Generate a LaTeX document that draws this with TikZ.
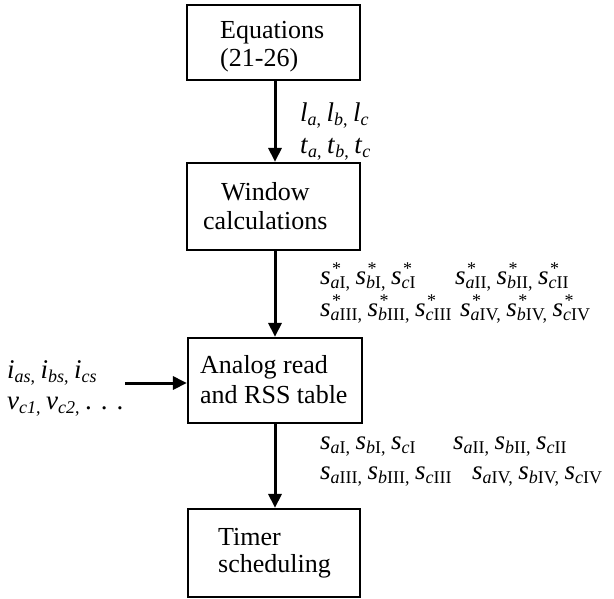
\documentclass[tikz,border=0pt]{standalone}
\usepackage{fontspec}
\setmainfont{Liberation Serif}
\usetikzlibrary{arrows.meta}
\newcommand\sbx[1]{\raisebox{-0.33ex}{\fontsize{18}{18}\selectfont #1}}
\newcommand\vv[2]{\textit{#1}\sbx{#2}}
\newcommand\vst[2]{\textit{#1}\makebox[0pt][l]{\hspace{1.5pt}\raisebox{0.75ex}{\fontsize{18}{18}\selectfont *}}\sbx{#2}}
\newcommand\sep{\hspace{5.5pt}}
\begin{document}
\begin{tikzpicture}[x=1pt,y=-1pt,
  blk/.style={draw,line width=2.2pt,inner sep=0pt},
  txt/.style={anchor=base west,inner sep=0pt,font=\fontsize{26}{26}\selectfont},
  lbl/.style={anchor=base west,inner sep=0pt,font=\fontsize{27}{27}\selectfont},
  arr/.style={line width=3pt,-{Triangle[length=14pt,width=13pt]}}]
\useasboundingbox (0,0) rectangle (614,598);
\node[blk,minimum width=173pt,minimum height=75pt] (b1) at (273.5,42.5) {};
\node[blk,minimum width=173pt,minimum height=87pt] (b2) at (273.5,206.5) {};
\node[blk,minimum width=174pt,minimum height=85pt] (b3) at (275,380.5) {};
\node[blk,minimum width=172pt,minimum height=88pt] (b4) at (274,553) {};
\node[txt] (t1a) at (220,38) {Equations};
\node[txt] (t1b) at (220,66) {(21-26)};
\node[txt] (t2a) at (221,200) {Window};
\node[txt] (t2b) at (203,229) {calculations};
\node[txt] (t3a) at (200,373) {Analog read};
\node[txt] (t3b) at (200,403) {and RSS table};
\node[txt] (t4a) at (218,545) {Timer};
\node[txt] (t4b) at (218,572) {scheduling};
\draw[arr] (b1.south -| 275,0) -- (b2.north -| 275,0);
\draw[arr] (b2.south -| 275,0) -- (b3.north -| 275,0);
\draw[arr] (b3.south -| 275,0) -- (b4.north -| 275,0);
\coordinate (in) at (125,383);
\draw[arr] (in) -- (in -| b3.west);
\node[lbl] (l1) at (300,121) {\vv{l}{\textit{a},}\sep\vv{l}{\textit{b},}\sep\vv{l}{\textit{c}}};
\node[lbl] (l2) at (300,153) {\vv{t}{\textit{a},}\sep\vv{t}{\textit{b},}\sep\vv{t}{\textit{c}}};
\node[lbl] (s1a) at (320,284) {\vst{s}{\textit{a}I,}\sep\vst{s}{\textit{b}I,}\sep\vst{s}{\textit{c}I}};
\node[lbl] (s1b) at (455,284) {\vst{s}{\textit{a}II,}\sep\vst{s}{\textit{b}II,}\sep\vst{s}{\textit{c}II}};
\node[lbl] (s2a) at (320,316) {\vst{s}{\textit{a}III,}\sep\vst{s}{\textit{b}III,}\sep\vst{s}{\textit{c}III}};
\node[lbl] (s2b) at (460,316) {\vst{s}{\textit{a}IV,}\sep\vst{s}{\textit{b}IV,}\sep\vst{s}{\textit{c}IV}};
\node[lbl] (r1a) at (320,449) {\vv{s}{\textit{a}I,}\sep\vv{s}{\textit{b}I,}\sep\vv{s}{\textit{c}I}};
\node[lbl] (r1b) at (453,449) {\vv{s}{\textit{a}II,}\sep\vv{s}{\textit{b}II,}\sep\vv{s}{\textit{c}II}};
\node[lbl] (r2a) at (320,479) {\vv{s}{\textit{a}III,}\sep\vv{s}{\textit{b}III,}\sep\vv{s}{\textit{c}III}};
\node[lbl] (r2b) at (472,479) {\vv{s}{\textit{a}IV,}\sep\vv{s}{\textit{b}IV,}\sep\vv{s}{\textit{c}IV}};
\node[lbl] (i1) at (7,378) {\vv{i}{\textit{as},}\sep\vv{i}{\textit{bs},}\sep\vv{i}{\textit{cs}}};
\node[lbl] (v1) at (7,409) {\vv{v}{\textit{c1},}\sep\vv{v}{\textit{c2},}\sep. . .};
\end{tikzpicture}
\end{document}
